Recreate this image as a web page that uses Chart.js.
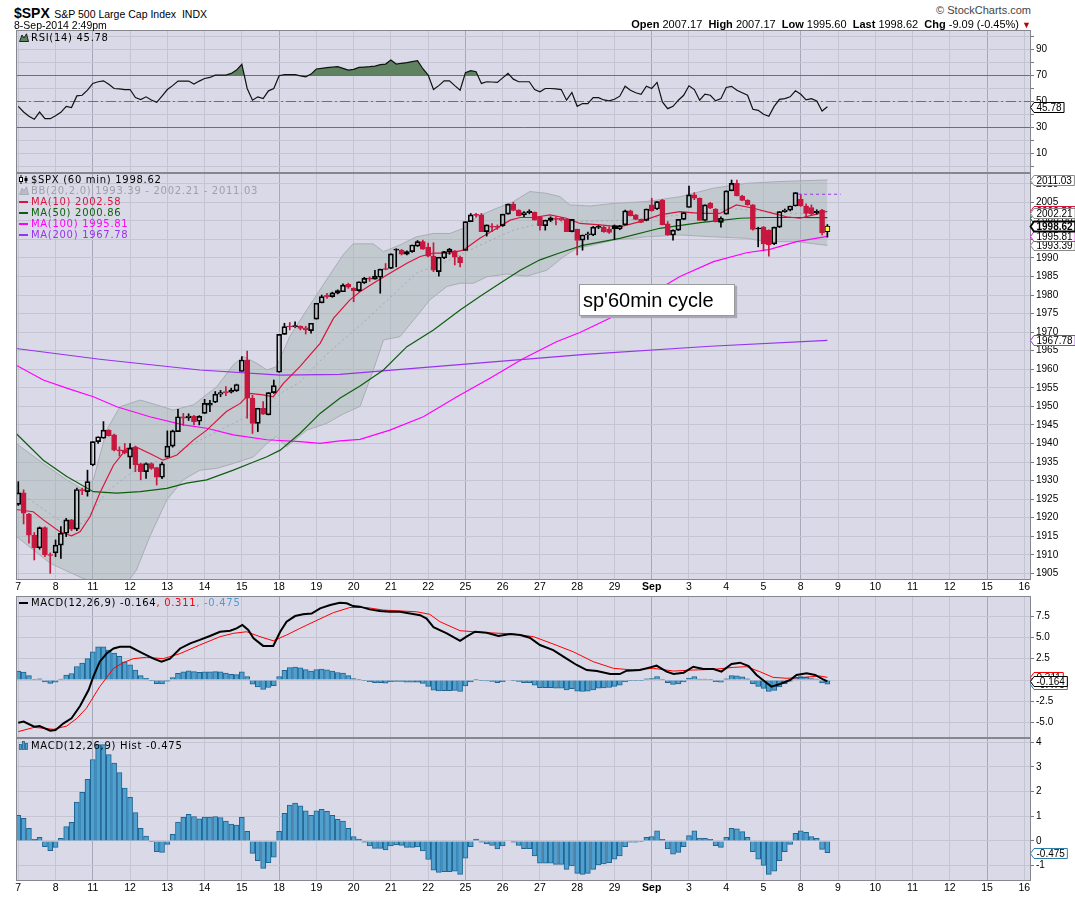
<!DOCTYPE html>
<html>
<head>
<meta charset="utf-8">
<title>$SPX 60 min</title>
<script src="https://cdn.jsdelivr.net/npm/chart.js@4.4.1/dist/chart.umd.min.js"></script>
<style>
html,body{margin:0;padding:0;background:#fff;}
body{width:1075px;height:897px;position:relative;overflow:hidden;font-family:'Liberation Sans',Arial,sans-serif;color:#000;}
canvas{position:absolute;left:0;}
.t{position:absolute;white-space:nowrap;}
.lg{position:absolute;left:19px;white-space:nowrap;font:10px 'DejaVu Sans',sans-serif;letter-spacing:0.7px;line-height:11px;}
.lg svg{vertical-align:-1px;margin-right:2px;}
.note{position:absolute;left:579px;top:284px;width:156px;height:32px;background:#fff;border:1px solid #9a9a9a;box-shadow:2px 2px 1px #a9a9b5;font:20px 'Liberation Sans',Arial,sans-serif;line-height:30px;padding-left:3px;box-sizing:border-box;}
</style>
</head>
<body>
<script>
// ---------------- DATA ----------------
const dayLabels = ['7','8','11','12','13','14','15','18','19','20','21','22','25','26','27','28','29','Sep','3','4','5','8','9','10','11','12','15','16'];
const weekStartDays = [2,7,12,17,21,26];
const BARS_PER_DAY = 7;

const openP = [1923.6,1926.7,1921.0,1915.3,1911.9,1917.3,1910.0,1910.5,1912.6,1915.8,1919.4,1916.9,1927.6,1927.0,1934.2,1940.5,1941.4,1943.6,1942.3,1938.2,1938.2,1936.3,1939.0,1934.5,1932.4,1934.6,1933.5,1930.9,1936.3,1939.3,1943.2,1947.2,1946.9,1947.4,1946.0,1948.1,1950.3,1951.1,1953.3,1954.0,1953.8,1954.2,1959.4,1962.5,1952.2,1945.4,1949.5,1947.7,1953.7,1959.2,1969.4,1971.6,1971.4,1971.6,1971.2,1970.4,1973.5,1977.9,1980.0,1979.6,1980.5,1980.9,1982.9,1981.8,1981.2,1983.3,1984.5,1984.3,1984.8,1987.1,1987.2,1992.1,1992.1,1991.0,1991.7,1993.2,1994.4,1992.9,1990.5,1986.3,1990.0,1991.7,1991.9,1990.2,1992.0,1999.8,2001.6,2001.6,1997.1,1998.6,1998.5,1998.7,2001.8,2004.5,2002.9,2001.6,2002.2,2002.3,2001.1,1998.7,2000.1,2000.7,2000.7,2000.4,1997.1,1997.7,1994.8,1996.2,1996.2,1998.2,1998.3,1997.8,1998.7,1997.8,1998.9,2002.7,2001.6,2000.4,2000.1,2004.3,2003.2,2005.6,1999.2,1996.2,1997.5,2000.4,2003.6,2007.0,2006.1,2000.1,2004.7,2003.2,1999.6,2001.8,2008.1,2010.1,2006.7,2005.5,2004.3,1998.0,1998.3,1997.5,1993.8,1998.3,2002.5,2002.9,2004.0,2005.8,2004.0,2003.6,2002.2,2002.9,1997.1];
const highP = [1929.7,1927.5,1921.2,1916.0,1917.5,1917.5,1910.5,1914.0,1917.6,1919.8,1919.5,1928.0,1928.0,1932.8,1940.5,1941.8,1945.9,1943.7,1942.5,1939.1,1940.0,1940.0,1939.3,1934.7,1934.8,1934.8,1933.6,1935.0,1943.4,1943.6,1949.2,1948.1,1948.0,1947.6,1947.5,1951.9,1951.6,1954.0,1954.3,1955.3,1954.9,1956.0,1963.4,1964.9,1953.0,1949.5,1951.3,1953.7,1957.1,1969.4,1972.4,1972.6,1972.8,1971.7,1971.6,1972.4,1977.8,1980.0,1980.5,1980.8,1981.4,1983.0,1983.2,1982.0,1983.6,1984.8,1984.9,1986.7,1987.0,1988.5,1991.1,1992.5,1992.3,1991.9,1993.5,1994.7,1994.8,1994.0,1994.1,1990.2,1991.8,1992.6,1992.0,1990.5,1999.8,2002.0,2002.0,2002.0,1998.9,1999.3,1998.9,2001.8,2004.5,2005.0,2003.0,2002.5,2003.0,2002.4,2001.2,2000.2,2001.1,2001.1,2000.9,2000.5,2000.4,1997.8,1996.2,1997.0,1998.5,1998.8,1998.5,1998.4,1998.9,1998.8,2002.9,2002.9,2001.7,2000.5,2003.2,2006.1,2005.2,2005.8,1999.8,1997.6,2000.4,2002.2,2009.4,2007.6,2006.2,2004.3,2005.0,2003.3,2001.1,2008.1,2011.0,2011.0,2006.9,2005.7,2004.4,1998.3,1998.5,1997.6,1998.3,2002.5,2003.2,2004.0,2007.6,2007.2,2004.6,2004.3,2003.0,2003.1,1999.0];
const lowP = [1923.3,1918.3,1913.1,1908.6,1911.5,1909.5,1905.0,1909.5,1909.0,1914.9,1916.5,1916.5,1926.2,1925.8,1934.0,1940.0,1941.4,1942.0,1938.0,1936.6,1937.2,1933.3,1932.4,1930.2,1930.6,1933.0,1928.8,1930.5,1936.3,1939.0,1943.2,1944.9,1946.2,1945.0,1945.0,1948.1,1948.6,1951.0,1952.6,1952.9,1953.6,1954.0,1959.4,1946.8,1942.7,1943.2,1947.8,1947.7,1953.5,1959.2,1969.4,1970.6,1971.3,1970.6,1969.5,1969.7,1973.5,1977.9,1979.1,1979.4,1980.3,1980.9,1981.8,1978.2,1981.0,1983.1,1983.7,1984.3,1980.5,1986.8,1987.2,1987.6,1990.8,1990.8,1991.5,1993.1,1992.3,1990.3,1986.3,1985.1,1989.8,1991.0,1988.1,1987.6,1992.0,1999.8,2001.0,1997.1,1995.9,1997.1,1997.7,1998.5,2001.8,2002.7,2001.3,2001.1,2001.9,2000.2,1997.5,1997.5,1999.8,1998.9,2000.0,1997.1,1997.0,1990.8,1992.1,1995.0,1996.0,1997.9,1996.9,1996.6,1995.0,1997.6,1998.9,2001.3,2000.3,1999.5,2000.0,2002.6,2003.0,1998.9,1996.1,1994.8,1997.4,2000.3,2003.6,2005.7,2000.1,2000.0,2003.3,1999.7,1998.3,2001.8,2008.1,2006.7,2005.4,2004.2,1997.5,1993.0,1991.9,1990.5,1993.6,1998.2,2002.3,2002.7,2004.0,2003.9,2001.1,2001.5,2001.8,1996.2,1995.6];
const closeP = [1926.7,1921.2,1915.3,1911.9,1917.3,1910.0,1909.8,1912.6,1915.8,1919.4,1916.9,1927.6,1927.2,1929.7,1940.5,1941.8,1943.6,1942.1,1938.2,1938.0,1937.5,1938.7,1934.2,1932.4,1934.6,1933.3,1930.9,1934.5,1939.3,1943.4,1947.2,1946.8,1947.4,1945.9,1947.3,1950.8,1950.9,1953.3,1953.7,1953.6,1954.4,1955.9,1962.5,1952.2,1945.4,1949.5,1947.9,1953.7,1955.6,1969.4,1971.5,1971.4,1971.8,1971.0,1970.6,1972.4,1977.8,1979.6,1979.5,1980.6,1981.2,1982.7,1982.1,1981.2,1983.6,1984.5,1984.3,1985.1,1987.0,1986.9,1991.1,1992.2,1991.0,1991.7,1993.5,1994.4,1992.4,1990.5,1986.7,1990.2,1991.7,1992.4,1990.2,1988.7,1999.8,2001.6,2001.5,1997.1,1998.9,1998.3,1998.2,2001.8,2004.5,2002.8,2001.4,2002.2,2002.6,2000.2,1998.7,2000.2,2000.8,2000.4,2000.2,1997.1,2000.4,1994.7,1996.2,1996.5,1998.3,1998.5,1997.1,1996.9,1997.8,1998.7,2002.7,2001.4,2000.4,1999.6,2003.2,2002.7,2005.2,1998.9,1996.2,1997.5,2000.4,2002.2,2007.0,2006.1,2000.1,2004.3,2003.4,1999.8,2000.7,2008.1,2010.1,2006.7,2005.5,2004.3,1997.7,1997.8,1993.8,1993.5,1998.3,2002.5,2002.9,2004.0,2007.6,2004.0,2002.0,2001.9,2002.6,1996.8,1998.62];

// overlays: [bar index, value]
const ma10Pts = [[-0.4,1922.2],[2.8,1921.6],[4.7,1919.4],[7.8,1916.2],[10,1915.1],[11.6,1916.2],[13.5,1920.3],[15.3,1926.6],[17.9,1934.2],[20.4,1938.7],[22.2,1939],[24.7,1937.3],[27.2,1935.5],[29.8,1936.9],[32.9,1940.9],[35.4,1943.6],[39.1,1948.6],[41.7,1950.8],[43.5,1953.5],[46,1953.1],[47.9,1952.6],[49.8,1956.2],[52.9,1960.7],[56.7,1967],[59.2,1973.7],[62.3,1978.7],[64.2,1980.9],[66.7,1983.2],[69.8,1985.9],[73,1988.6],[75.5,1990.4],[78,1991.3],[81.1,1991.3],[83.6,1992.1],[86.7,1995.3],[89.9,1998],[92.4,2000.2],[94.3,2000.9],[96.8,2000.9],[99.9,2001.6],[103,2000.7],[105.5,1999.3],[109.3,1998.9],[113,1998.4],[116.8,1999.8],[120.5,2001.6],[124.3,2002.5],[128.1,2002],[131.8,2002],[134.9,2004.3],[138.1,2003.4],[141.8,2002],[144.3,2001.1],[146.8,2000.7],[149.4,2001.6],[152,2002.58]];
const ma50Pts = [[-0.4,1942.7],[4.7,1935.5],[9.1,1931.1],[14.1,1927],[18.5,1926.6],[22.9,1927],[27.9,1927.9],[31.6,1929.3],[35.4,1930.2],[40.4,1932.8],[43.5,1934.6],[46.7,1936.4],[49.2,1938.2],[52.9,1942.7],[56.7,1948.1],[60.4,1952.2],[64.2,1955.5],[68.6,1959.8],[73,1966.1],[78,1970.6],[83,1976],[86.7,1979.6],[90.5,1983.2],[94.3,1986.7],[98,1989.5],[101.8,1991.4],[106,1993.4],[113,1995.3],[120.5,1998],[128.1,1999.5],[132.4,2000.2],[135.6,2000.7],[140,2000.9],[145.6,2000.9],[152,2000.86]];
const ma100Pts = [[-0.4,1961.1],[4.7,1957.1],[9.1,1954.9],[14.1,1952.6],[18.5,1949.9],[24.7,1947.2],[31,1945],[35.4,1944.1],[40.4,1942.3],[46.7,1941],[52.9,1940.5],[56.7,1940.0],[60.4,1940.7],[64.2,1941.1],[69.8,1943.6],[76.1,1947.2],[82.4,1952.6],[88.6,1957.6],[94.9,1962.9],[101.1,1967.4],[105.5,1969.9],[111.8,1974.2],[118,1979.6],[124.3,1985],[130.6,1989],[136.8,1991.4],[141.2,1992.3],[146.2,1994.4],[152,1995.81]];
const ma200Pts = [[-0.4,1965.6],[15.3,1962.7],[34.1,1959.8],[49.2,1958.4],[60.4,1958.6],[84,1961.4],[106.5,1964],[130,1966.2],[152,1967.78]];
const bbMidPts = [[-0.4,1927.5],[4.7,1922.3],[9.1,1918],[12.2,1918.5],[16.6,1927],[21.6,1932.5],[27.9,1936.4],[32.9,1940],[37.3,1943.2],[40.4,1945.4],[45.4,1949],[49.8,1954],[52.9,1956.5],[57.9,1964],[64.2,1971.8],[66.7,1975.1],[74.8,1985.9],[81.1,1989.5],[87.4,1993.9],[93,1997.5],[98,1999.3],[104.3,1999.8],[114.9,2000.2],[124.3,2001.6],[133.7,2003.4],[140,2002.5],[146.2,2002],[152,2002.21]];
const bbUpperPts = [[-0.4,1940],[4.7,1934.6],[9.1,1930.2],[12.2,1927.6],[14.1,1930.2],[16.6,1943.6],[19.1,1949.9],[22.9,1951.7],[26,1950.4],[29.1,1949],[32.9,1950.4],[37.3,1955.3],[40.4,1961.2],[42.3,1963.4],[44.8,1961.6],[46.7,1959.8],[48.5,1960.7],[51,1968.8],[54.2,1976],[57.9,1984.1],[61.1,1991],[62.9,1993.8],[66.7,1993.8],[68.6,1991.7],[71.7,1993.5],[74.8,1995.7],[78,1996.6],[81.1,1996.6],[83.6,1998],[86.1,2001.1],[89.9,2003.4],[93,2005.2],[96.1,2007.9],[99.3,2007.4],[101.8,2006.5],[103.6,2004.3],[107.4,2004],[111.8,2004.7],[118,2005.2],[124.3,2006.5],[130.6,2008.8],[136.8,2010.1],[143.1,2010.6],[152,2011.03]];
const bbLowerPts = [[-0.4,1915],[6,1907.7],[12.2,1903.6],[17.2,1901.4],[20.4,1902.3],[22.2,1905.9],[24.7,1914.9],[27.9,1924.8],[31,1930.2],[34.1,1932.8],[37.3,1933.3],[40.4,1934.6],[44.2,1936.4],[46.7,1940],[48.5,1941.8],[50.4,1939.1],[54.2,1943.6],[57.9,1945.4],[61.1,1948],[64.2,1950],[66.7,1959.8],[68.6,1967.9],[71.7,1968.8],[74.8,1974.2],[77.3,1978.7],[80.5,1982.3],[83,1983.2],[85.5,1983.2],[88,1984.9],[91.7,1985.7],[95.5,1985.1],[99.3,1986.7],[102.4,1990.3],[104.9,1992.6],[107.4,1993.3],[111.8,1994.8],[118,1995.7],[124.3,1996.2],[130.6,1995.7],[136.8,1995.3],[140.6,1994.4],[146.2,1994.4],[152,1993.39]];
const dayOpen = 2007.17;
const lastDay = 21;

const rsi = [46.1,41.7,38.5,36.1,41.7,36.6,36.6,38.8,41.5,46.1,45.1,54.1,54.6,58.5,63.7,65,65.7,63,59.8,59.5,59,59,52.8,51.3,53.4,51,49.2,54,59,62,65.5,65.5,65.5,63.2,65.5,67.5,68.3,70.1,70.1,70.1,71.4,74,78.4,59.8,50.8,53.4,52,58,59.8,69.6,70.4,70.4,70.4,69.5,68.8,70.9,74.8,75.3,75.8,76.2,76.6,75.3,74,74.5,76,76.3,76.6,77,78.1,78.6,81.7,78.6,79.2,79.7,80.5,81.2,75,70.1,59,62,65.7,65.7,62,58.5,71.9,73.5,72.7,63.7,65,64.8,64.5,68,71.4,67,65,65,65,59,57.2,59.8,59.8,59.5,59,50.8,56.7,46.1,48.2,48.2,52.8,52.8,51,50.3,51.5,53.9,61.6,58.5,56.5,55.4,61.6,59.8,64.5,49.5,44.3,46.1,50.8,54.6,61.9,59,50.8,55.5,54.6,50.3,52,60.6,61.5,58.5,56.5,54.6,43.8,43,40,38.4,46,51.5,52,53.4,58,55.4,51,52,50.3,42.5,45.78];
const rsiBands = [30, 70];
const rsiMid = 50;

const macdPts = [[0,-5.0],[1,-4.88],[3,-5.47],[4,-5.4],[6,-5.94],[7,-5.86],[8.5,-5.08],[10,-4.5],[11.6,-3.05],[13.2,-1.17],[14.1,0.39],[15.3,2.15],[16.6,3.1],[17.9,3.7],[19.1,3.9],[21,3.9],[22.2,3.5],[23.5,3.1],[25.4,2.5],[26.9,2.15],[28.5,2.5],[30.4,3.7],[32.3,4.3],[34.1,4.7],[36,5.16],[37.9,5.66],[39.8,5.78],[41,6.05],[42.1,6.45],[43.2,5.86],[44.2,4.9],[46,4.0],[47.9,4.0],[49.2,5.66],[50.4,6.84],[52,7.5],[53.5,7.7],[55.1,7.8],[56.7,8.4],[58.6,8.8],[60.4,9.06],[61.7,9.0],[62.9,8.67],[64.2,8.6],[66,8.28],[67.9,8.1],[69.8,8.0],[71.7,8.0],[73.6,7.8],[75.5,7.6],[76.7,7.2],[78,6.2],[80.5,5.47],[83,4.6],[84.2,5.08],[85.8,5.66],[88,5.55],[90.2,5.16],[92.4,5.4],[94.3,5.27],[96.1,4.96],[98,4.1],[100.5,3.5],[103,2.5],[104.9,1.76],[106.8,1.17],[108.7,1.05],[111.2,0.7],[113,0.7],[114.3,1.09],[116.8,1.17],[118.7,1.48],[119.9,1.68],[121.8,0.98],[123.1,0.7],[125,0.86],[126.8,1.56],[128.7,1.29],[130.6,1.29],[132.1,0.98],[134,1.88],[135.6,2.03],[137.2,1.64],[138.7,0.59],[140.3,-0.2],[141.5,-0.78],[143.1,-0.47],[145,0],[146.2,0.59],[148.1,0.78],[149.7,0.59],[151.2,0.08],[152,-0.164]];
const signalPts = [[0,-6.05],[3,-5.55],[6.6,-5.78],[9.1,-5.4],[11,-4.5],[12.8,-3.3],[15.3,-0.78],[17.9,1.37],[19.7,2.03],[21.6,2.5],[24.1,2.66],[27.2,2.5],[30.4,3.1],[34.1,4.1],[37.9,5.08],[40.4,5.47],[42.9,5.66],[45.4,5.08],[47.9,4.6],[50.4,5.27],[52.9,6.05],[56.1,7.0],[59.2,7.9],[62.3,8.5],[65.4,8.5],[68.6,8.2],[71.7,8.1],[74.8,8.0],[77.3,7.7],[79.2,6.84],[83,5.78],[88,5.55],[93,5.4],[96.8,5.08],[100.5,4.22],[104.3,3.3],[108,2.15],[111.8,1.37],[115.5,1.17],[119.3,1.37],[123.1,1.05],[126.8,1.17],[130.6,1.25],[134.3,1.48],[136.8,1.56],[139.3,0.98],[141.8,0.31],[144.4,0.2],[147.5,0.31],[150.6,0.47],[152,0.311]];
const hist = [1.04,0.92,0.51,0.07,0.15,-0.23,-0.39,-0.26,0.11,0.58,0.76,1.58,1.97,2.5,3.3,3.9,3.9,3.5,3.15,2.77,2.14,1.77,1.15,0.51,0.2,-0.03,-0.43,-0.46,-0.14,0.27,0.77,0.96,1.08,0.99,0.9,0.97,0.97,0.99,0.95,0.81,0.68,0.64,0.96,0.39,-0.5,-0.8,-1.11,-0.88,-0.66,0.39,1.12,1.45,1.53,1.42,1.22,1.04,1.22,1.28,1.2,1.04,0.88,0.81,0.51,0.18,0.08,-0.05,-0.2,-0.3,-0.3,-0.36,-0.2,-0.16,-0.18,-0.26,-0.26,-0.24,-0.4,-0.75,-1.18,-1.27,-1.24,-1.24,-1.22,-1.35,-0.7,-0.23,0.08,-0.05,-0.12,-0.18,-0.32,-0.2,0,-0.05,-0.18,-0.31,-0.31,-0.6,-0.9,-0.9,-0.9,-0.95,-0.95,-1.15,-1.01,-1.31,-1.35,-1.31,-1.15,-0.97,-0.93,-0.88,-0.74,-0.6,-0.23,-0.05,-0.05,-0.03,0.15,0.18,0.41,0.07,-0.32,-0.53,-0.46,-0.23,0.22,0.41,0.12,0.11,0.07,-0.19,-0.26,0.15,0.51,0.49,0.38,0.15,-0.43,-0.74,-0.99,-1.35,-1.22,-0.8,-0.43,-0.14,0.31,0.41,0.35,0.18,0.11,-0.34,-0.475];

const priceTicks = [1905,1910,1915,1920,1925,1930,1935,1940,1945,1950,1955,1960,1965,1970,1975,1980,1985,1990,1995,2000,2005,2010];
const rsiTicks = [0,10,20,30,40,50,60,70,80,90,100];
const rsiLabelled = [10,30,50,70,90];
const macdTicks = [-5,-2.5,0,2.5,5,7.5];
const histTicks = [-1,0,1,2,3,4];

// ---------------- STYLE ----------------
const PAGE_W = 1075, PLOT_L = 16, AXIS_W = 44, PLOT_R = PAGE_W - AXIS_W;
const X_MIN = -0.43, X_MAX = 190.25;
const GRID = '#c4c4d3', GRID_WEEK = '#a7a7b9', PLOT_BG = '#d9d9e7', FRAME = '#86868f';
const RED = '#c8173f', MA10_C = '#dc143c', MA50_C = '#0d5e0d', MA100_C = '#ff00ff', MA200_C = '#9932ee';
const BB_LINE = '#a9adb3', BB_FILL = 'rgba(160,180,176,0.40)', BB_MID = '#a6a8b2';
const RSI_FILL = '#5f8361', HIST_FILL = '#4f9fcf', HIST_LINE = '#1f6490', HIST_TAG = '#2f7fa8';

const pts = a => a.map(([x, y]) => ({x, y}));
const byIndex = a => a.map((y, x) => ({x, y}));
function lineDS(data, color, width, order, extra) {
  return Object.assign({type: 'line', data, borderColor: color, borderWidth: width, pointRadius: 0, pointHoverRadius: 0, tension: 0, fill: false, order}, extra || {});
}

function xScale(showLabels, axisH) {
  return {
    type: 'linear', min: X_MIN, max: X_MAX, offset: false,
    afterBuildTicks: s => { s.ticks = dayLabels.map((_, d) => ({value: d * BARS_PER_DAY})); },
    afterFit: s => { s.height = axisH; s.paddingLeft = 0; s.paddingRight = 0; },
    ticks: {
      display: showLabels, autoSkip: false, maxRotation: 0, minRotation: 0, padding: 1, color: '#000',
      font: c => ({family: 'Liberation Sans', size: 10.5, weight: dayLabels[c.index] === 'Sep' ? 'bold' : 'normal'}),
      callback: (v, i) => dayLabels[i]
    },
    grid: {
      drawTicks: false, offset: false, lineWidth: 1,
      color: c => (c.tick && weekStartDays.includes(Math.round(c.tick.value / BARS_PER_DAY))) ? GRID_WEEK : GRID
    },
    border: {display: false}
  };
}
function yScale(min, max, ticks, labelFn) {
  return {
    type: 'linear', position: 'right', min, max,
    afterBuildTicks: s => { s.ticks = ticks.map(v => ({value: v})); },
    afterFit: s => { s.width = AXIS_W; s.paddingTop = 0; s.paddingBottom = 0; },
    ticks: {autoSkip: false, padding: 2, color: '#000', font: {family: 'Liberation Sans', size: 10}, callback: labelFn},
    grid: {color: GRID, drawTicks: true, tickLength: 3, tickColor: '#7a7a85'},
    border: {display: false}
  };
}

function drawTag(ctx, yPix, text, color, bold) {
  ctx.save();
  ctx.font = (bold ? 'bold ' : '') + '10px "Liberation Sans"';
  const w = ctx.measureText(text).width + 5;
  const x0 = PLOT_R + 3, h = 10, y0 = Math.round(yPix) - 4.5;
  ctx.beginPath();
  ctx.moveTo(PLOT_R - 0.5, y0 + h / 2);
  ctx.lineTo(x0, y0); ctx.lineTo(x0 + w, y0); ctx.lineTo(x0 + w, y0 + h); ctx.lineTo(x0, y0 + h);
  ctx.closePath();
  ctx.fillStyle = '#fff'; ctx.fill();
  ctx.lineWidth = bold ? 1.8 : 1; ctx.strokeStyle = color; ctx.stroke();
  ctx.fillStyle = '#000'; ctx.textBaseline = 'middle'; ctx.textAlign = 'left';
  ctx.fillText(text, x0 + 2.5, y0 + h / 2 + 0.5);
  ctx.restore();
}

const bgPlugin = {id: 'bg', beforeDraw(c) {
  const a = c.chartArea, x = c.ctx; x.save(); x.fillStyle = PLOT_BG;
  x.fillRect(a.left, a.top, a.right - a.left, a.bottom - a.top); x.restore();
}};
function framePlugin(tags) {
  return {id: 'frame', afterDraw(c) {
    const a = c.chartArea, x = c.ctx;
    x.save(); x.strokeStyle = FRAME; x.lineWidth = 1;
    x.strokeRect(Math.round(a.left) + 0.5, Math.round(a.top) + 0.5, Math.round(a.right - a.left) - 1, Math.round(a.bottom - a.top) - 1);
    x.restore();
    const ys = c.scales.y;
    tags.forEach(t => drawTag(x, ys.getPixelForValue(t.v), t.v.toFixed(t.dec || 2), t.color, t.bold));
  }};
}

function panel(top, plotH, axisH, yCfg, datasets, plugins) {
  const PAD = 8;
  const cv = document.createElement('canvas');
  const h = PAD + plotH + (axisH || PAD);
  cv.width = PAGE_W; cv.height = h;
  cv.style.top = (top - PAD) + 'px'; cv.style.width = PAGE_W + 'px'; cv.style.height = h + 'px';
  document.body.appendChild(cv);
  return new Chart(cv.getContext('2d'), {
    type: 'bar',
    data: {datasets},
    options: {
      responsive: false, maintainAspectRatio: false, animation: false, devicePixelRatio: 1, events: [],
      layout: {padding: {left: PLOT_L, right: 0, top: PAD, bottom: axisH ? 0 : PAD}},
      plugins: {legend: {display: false}, tooltip: {enabled: false}},
      scales: {x: xScale(axisH > 0, axisH), y: yCfg}
    },
    plugins: [bgPlugin].concat(plugins)
  });
}

// ---------------- RSI PANEL ----------------
const rsiLevelsPlugin = {id: 'levels', beforeDatasetsDraw(c) {
  const y = c.scales.y, a = c.chartArea, x = c.ctx;
  x.save(); x.strokeStyle = '#6e6e78'; x.lineWidth = 1;
  rsiBands.forEach(v => { const p = Math.round(y.getPixelForValue(v)) + 0.5; x.beginPath(); x.moveTo(a.left, p); x.lineTo(a.right, p); x.stroke(); });
  const p = Math.round(y.getPixelForValue(rsiMid)) + 0.5;
  x.setLineDash([10, 3, 2, 3]); x.beginPath(); x.moveTo(a.left, p); x.lineTo(a.right, p); x.stroke();
  x.restore();
}};
panel(30, 143, 0,
  yScale(-5.2, 104.8, rsiTicks, v => rsiLabelled.includes(v) ? String(v) : ''),
  [lineDS(byIndex(rsi), '#111', 1.2, 1, {fill: {target: {value: 70}, above: RSI_FILL, below: 'rgba(0,0,0,0)'}})],
  [rsiLevelsPlugin, framePlugin([{v: rsi[rsi.length - 1], color: '#000'}])]);

// ---------------- PRICE PANEL ----------------
const N = closeP.length;
const idx = closeP.map((_, i) => i);
const candleCol = idx.map(i => (i > 0 && closeP[i] < closeP[i - 1]) ? RED : '#000');
const bodyFill = idx.map(i => i === N - 1 ? '#ffff40' : (closeP[i] < openP[i] ? candleCol[i] : 'rgba(0,0,0,0)'));
const upperWick = idx.map(i => ({x: i, y: [Math.max(openP[i], closeP[i]), highP[i]]}));
const lowerWick = idx.map(i => ({x: i, y: [lowP[i], Math.min(openP[i], closeP[i])]}));
const bodies = idx.map(i => ({x: i, y: [openP[i], closeP[i]]}));
const wickDS = (data, order) => ({type: 'bar', data, backgroundColor: candleCol, borderWidth: 0, barThickness: 1, grouped: false, order});
const last = a => a[a.length - 1][1];

panel(173, 407, 15,
  yScale(1903.2, 2012.9, priceTicks, v => String(v)),
  [
    lineDS(pts(bbUpperPts), BB_LINE, 1, 30, {fill: 1, backgroundColor: BB_FILL}),
    lineDS(pts(bbLowerPts), BB_LINE, 1, 29),
    lineDS(pts(bbMidPts), BB_MID, 1, 28, {borderDash: [2, 3]}),
    lineDS(pts(ma200Pts), MA200_C, 1.2, 27),
    lineDS(pts(ma100Pts), MA100_C, 1.2, 26),
    lineDS(pts(ma50Pts), MA50_C, 1.2, 25),
    lineDS(pts(ma10Pts), MA10_C, 1.2, 24),
    wickDS(upperWick, 4),
    wickDS(lowerWick, 3),
    {type: 'bar', data: bodies, backgroundColor: bodyFill, borderColor: candleCol, borderWidth: 1, borderSkipped: false,
     barThickness: 5, grouped: false, minBarLength: 1, order: 2},
    lineDS([{x: lastDay * BARS_PER_DAY - 0.5, y: dayOpen}, {x: lastDay * BARS_PER_DAY + 7.5, y: dayOpen}], MA200_C, 1, 1, {borderDash: [3, 3]})
  ],
  [framePlugin([
    {v: last(ma10Pts), color: MA10_C},
    {v: last(ma50Pts), color: MA50_C},
    {v: last(bbUpperPts), color: '#8a8a8a'},
    {v: last(bbMidPts), color: '#8a8a8a'},
    {v: last(bbLowerPts), color: '#8a8a8a'},
    {v: last(ma100Pts), color: MA100_C},
    {v: last(ma200Pts), color: MA200_C},
    {v: closeP[N - 1], color: '#000', bold: true}
  ])]);

// ---------------- MACD PANEL ----------------
const histDS = order => ({type: 'bar', data: byIndex(hist), backgroundColor: HIST_FILL, borderColor: HIST_LINE, borderWidth: 1,
  barThickness: 5, grouped: false, order});
panel(596, 142, 0,
  yScale(-6.8, 9.85, macdTicks, v => v.toFixed(1)),
  [histDS(5), lineDS(pts(signalPts), '#ff0000', 1, 2), lineDS(pts(macdPts), '#000', 2, 1)],
  [framePlugin([
    {v: last(signalPts), color: '#ff0000', dec: 3},
    {v: hist[hist.length - 1], color: HIST_TAG, dec: 3},
    {v: last(macdPts), color: '#000', dec: 3}
  ])]);

// ---------------- HISTOGRAM PANEL ----------------
panel(738, 143, 16,
  yScale(-1.62, 4.17, histTicks, v => String(v)),
  [histDS(1)],
  [framePlugin([{v: hist[hist.length - 1], color: HIST_TAG, dec: 3}])]);

// ---------------- TEXT ----------------
function addText(html, style, cls) {
  const d = document.createElement('div');
  d.className = cls || 't'; d.setAttribute('style', style); d.innerHTML = html;
  document.body.appendChild(d); return d;
}
const f2 = v => v.toFixed(2), f3 = v => v.toFixed(3);
const dash = c => `<svg width="10" height="8"><rect x="0" y="3" width="9" height="2" fill="${c}"/></svg>`;
const mountain = (fill, stroke) => `<svg width="10" height="9"><path d="M0.5 8.5 L3 2 L5 5 L7.5 0.8 L9.5 8.5 Z" fill="${fill}" stroke="${stroke}" stroke-width="0.8"/></svg>`;
const candleIcon = `<svg width="10" height="9"><path d="M2 0 V9 M7 1 V8" stroke="#000" stroke-width="1"/><rect x="0.5" y="2.5" width="3" height="4" fill="#fff" stroke="#000"/><rect x="5.5" y="3" width="3" height="3" fill="#000"/></svg>`;
const barsIcon = `<svg width="10" height="9"><rect x="0.5" y="3.5" width="2" height="5" fill="${HIST_FILL}" stroke="${HIST_LINE}" stroke-width="0.8"/><rect x="3.5" y="0.5" width="2" height="8" fill="${HIST_FILL}" stroke="${HIST_LINE}" stroke-width="0.8"/><rect x="6.5" y="2.5" width="2" height="6" fill="${HIST_FILL}" stroke="${HIST_LINE}" stroke-width="0.8"/></svg>`;

addText(`<span style="font:bold 14px 'Liberation Sans',Arial;">$SPX</span> <span style="font:10.5px 'Liberation Sans',Arial;">S&amp;P 500 Large Cap Index&nbsp; INDX</span>`, "left:14px;top:5px;line-height:14px;");
addText(`8-Sep-2014 2:49pm`, "left:14px;top:18.5px;font:10.5px 'Liberation Sans',Arial;line-height:12px;");
addText(`&copy; StockCharts.com`, "right:44px;top:4px;font:11px 'Liberation Sans',Arial;line-height:12px;color:#444;");
addText(`<b>Open</b> 2007.17&nbsp; <b>High</b> 2007.17&nbsp; <b>Low</b> 1995.60&nbsp; <b>Last</b> 1998.62&nbsp; <b>Chg</b> -9.09 (-0.45%) <span style="color:#b00;font-size:9px;">&#9660;</span>`,
  "right:44px;top:18px;font:11px 'Liberation Sans',Arial;line-height:12px;");

addText(`${mountain(RSI_FILL, '#000')}RSI(14) ${f2(rsi[rsi.length - 1])}`, "top:31.7px;", 'lg');
const mainLegend = [
  [candleIcon, '#000', `$SPX (60 min) ${f2(closeP[N - 1])}`],
  [mountain('#b8bcc4', '#a0a4ac'), '#a0a0a8', `BB(20,2.0) ${f2(last(bbLowerPts))} - ${f2(last(bbMidPts))} - ${f2(last(bbUpperPts))}`],
  [dash(MA10_C), MA10_C, `MA(10) ${f2(last(ma10Pts))}`],
  [dash(MA50_C), MA50_C, `MA(50) ${f2(last(ma50Pts))}`],
  [dash(MA100_C), MA100_C, `MA(100) ${f2(last(ma100Pts))}`],
  [dash(MA200_C), MA200_C, `MA(200) ${f2(last(ma200Pts))}`]
];
mainLegend.forEach(([icon, col, txt], k) => addText(`${icon}<span style="color:${col}">${txt}</span>`, `top:${174 + 11 * k}px;`, 'lg'));
addText(`${dash('#000')}MACD(12,26,9) ${f3(last(macdPts))}<span style="color:#ff0000">, ${f3(last(signalPts))}</span><span style="color:${HIST_FILL}">, ${f3(hist[hist.length - 1])}</span>`, "top:597.4px;", 'lg');
addText(`${barsIcon}MACD(12,26,9) Hist ${f3(hist[hist.length - 1])}`, "top:740.4px;", 'lg');

addText(`sp'60min cycle`, "", 'note');
</script>
</body>
</html>
